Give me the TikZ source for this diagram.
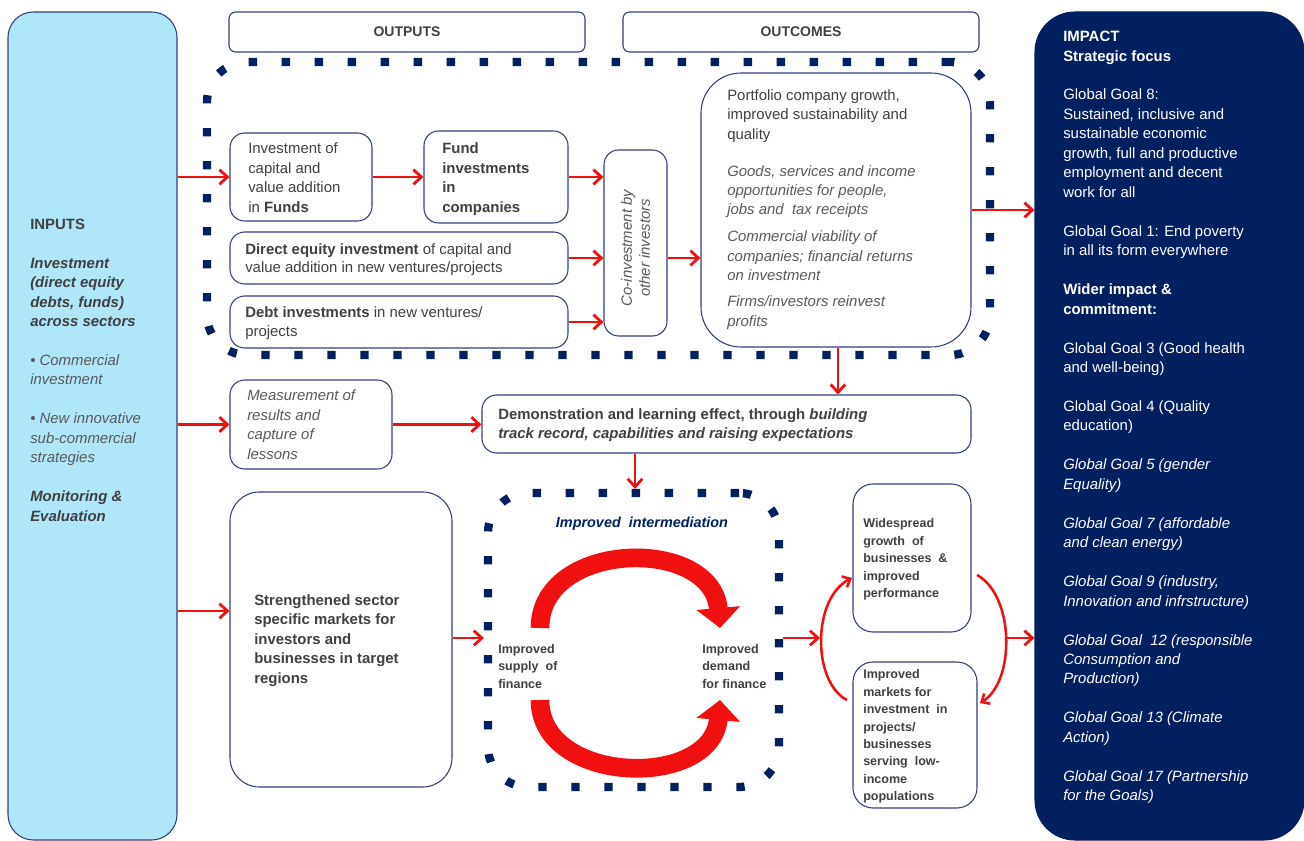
\documentclass[tikz,border=0pt]{standalone}
\usepackage{fontspec}
\setmainfont{Liberation Sans}
\usetikzlibrary{arrows.meta,fit}
\definecolor{navy}{RGB}{0,32,96}
\definecolor{edgec}{RGB}{50,64,122}
\definecolor{inblue}{RGB}{174,230,250}
\definecolor{txtc}{RGB}{64,64,64}
\definecolor{txtlt}{RGB}{89,89,89}
\definecolor{arrc}{RGB}{240,16,16}
\newcommand\fm{\fontsize{11.2pt}{14.6pt}\selectfont}
\newcommand\fmt{\fontsize{11.2pt}{13.6pt}\selectfont}
\newcommand\fsm{\fontsize{9.4pt}{13.1pt}\selectfont}
\begin{document}
\begin{tikzpicture}[x=0.75pt,y=-0.75pt,
  box/.style={draw=edgec, line width=0.8pt, rounded corners=11pt, fill=white, inner sep=0pt},
  hdr/.style={box, rounded corners=5pt},
  hdrtxt/.style={inner sep=0pt, font=\fontsize{10.5pt}{12pt}\selectfont\bfseries, text=txtc},
  dotbox/.style={draw=navy, line width=6.2pt, dash pattern=on 6.2pt off 18.55pt, rounded corners=30pt, inner sep=0pt},
  tx/.style={inner sep=0pt, align=left, text=txtc, font=\fm, anchor=west},
  txs/.style={inner sep=0pt, align=left, text=txtc, font=\fsm\bfseries, anchor=west},
  rarrow/.style={draw=arrc, line width=2.1pt, -{Straight Barb[length=6pt,width=11pt]}},
  rcurve/.style={draw=arrc, line width=1.9pt, -{Straight Barb[length=5pt,width=9pt]}},
  bigarr/.style={draw=arrc, line width=14pt, -{Triangle[length=15pt,width=32pt]}},
]
\useasboundingbox (0,0) rectangle (1304,841);
\fill[white] (0,0) rectangle (1304,841);

% ---------- Inputs column
\node[box, fill=inblue, rounded corners=19pt, fit={(8,12) (177,840)}] (inputs) {};
\node[tx] (inputstxt) at (30,370) {\textbf{INPUTS}\\[14.6pt]
\textbf{\textit{Investment}}\\
\textbf{\textit{(direct equity}}\\
\textbf{\textit{debts, funds)}}\\
\textbf{\textit{across sectors}}\\[14.6pt]
\color{txtlt}\textit{\textbullet\ Commercial}\\
\color{txtlt}\textit{investment}\\[14.6pt]
\color{txtlt}\textit{\textbullet\ New innovative}\\
\color{txtlt}\textit{sub-commercial}\\
\color{txtlt}\textit{strategies}\\[14.6pt]
\textbf{\textit{Monitoring \&}}\\
\textbf{\textit{Evaluation}}};

% ---------- Impact column
\node[box, draw=navy, fill=navy, rounded corners=30pt, fit={(1035,12) (1304,840)}] (impact) {};
\node[tx, text=white] (impacttxt) at (1063,417.5) {\textbf{IMPACT}\\
\textbf{Strategic focus}\\[14.6pt]
Global Goal 8:\\
Sustained, inclusive and\\
sustainable economic\\
growth, full and productive\\
employment and decent\\
work for all\\[14.6pt]
Global Goal 1: End poverty\\
in all its form everywhere\\[14.6pt]
\textbf{Wider impact \&}\\
\textbf{commitment:}\\[14.6pt]
Global Goal 3 (Good health\\
and well-being)\\[14.6pt]
Global Goal 4 (Quality\\
education)\\[14.6pt]
\textit{Global Goal 5 (gender}\\
\textit{Equality)}\\[14.6pt]
\textit{Global Goal 7 (affordable}\\
\textit{and clean energy)}\\[14.6pt]
\textit{Global Goal 9 (industry,}\\
\textit{Innovation and infrstructure)}\\[14.6pt]
\textit{Global Goal\ \ 12 (responsible}\\
\textit{Consumption and}\\
\textit{Production)}\\[14.6pt]
\textit{Global Goal 13 (Climate}\\
\textit{Action)}\\[14.6pt]
\textit{Global Goal 17 (Partnership}\\
\textit{for the Goals)}};

% ---------- Headers
\node[hdr, fit={(229,12) (585,52)}] (outputs) {};
\node[hdrtxt] (outputstxt) at (outputs.center) {OUTPUTS};
\node[hdr, fit={(623,12) (979,52)}] (outcomes) {};
\node[hdrtxt] (outcomestxt) at (outcomes.center) {OUTCOMES};

% ---------- Dotted zones
\node[dotbox, fit={(207,62) (990,355)}] (zone) {};
\node[dotbox, fit={(488,493) (779,787)}] (interm) {};

% ---------- Output boxes
\node[box, fit={(230,133) (372,221)}] (inv) {};
\node[tx] (invtxt) at (248,177.5) {Investment of\\capital and\\value addition\\in \textbf{Funds}};
\node[box, fit={(424,131) (568,223)}] (fund) {};
\node[tx] (fundtxt) at (442,179) {\textbf{Fund}\\\textbf{investments}\\\textbf{in}\\\textbf{companies}};
\node[box, fit={(230,232) (568,284)}] (direct) {};
\node[tx, font=\fmt] (directtxt) at (245,259.5) {\textbf{Direct equity investment} of capital and\\value addition in new ventures/projects};
\node[box, fit={(230,296) (568,348)}] (debt) {};
\node[tx] (debttxt) at (245,323) {\textbf{Debt investments} in new ventures/\\projects};
\node[box, fit={(604,150) (667,336)}] (coinv) {};
\node[inner sep=0pt, align=center, rotate=90, text=txtlt, font=\fmt\itshape] (cotxt) at (635.5,248) {Co-investment by\\other investors};

% ---------- Outcome box
\node[box, rounded corners=30pt, fit={(701,73) (971,347)}] (outc) {};
\node[tx] (outctxt) at (727,209.5) {Portfolio company growth,\\
improved sustainability and\\
quality\\[13pt]
\color{txtlt}\textit{Goods, services and income}\\
\color{txtlt}\textit{opportunities for people,}\\
\color{txtlt}\textit{jobs and\ \ tax receipts}\\[5.6pt]
\color{txtlt}\textit{Commercial viability of}\\
\color{txtlt}\textit{companies; financial returns}\\
\color{txtlt}\textit{on investment}\\[5pt]
\color{txtlt}\textit{Firms/investors reinvest}\\
\color{txtlt}\textit{profits}};

% ---------- Middle row
\node[box, fit={(230,380) (392,469)}] (meas) {};
\node[tx, text=txtlt] (meastxt) at (247,424.5) {\textit{Measurement of}\\\textit{results and}\\\textit{capture of}\\\textit{lessons}};
\node[box, fit={(482,395) (971,453)}] (demo) {};
\node[tx] (demotxt) at (498,425) {\textbf{Demonstration and learning effect, through \textit{building}}\\\textbf{\textit{track record, capabilities and raising expectations}}};

% ---------- Bottom row
\node[box, rounded corners=22pt, fit={(230,492) (452,787)}] (strength) {};
\node[tx, font=\fm\bfseries] (strtxt) at (254,640.5) {Strengthened sector\\specific markets for\\investors and\\businesses in target\\regions};
\node[inner sep=0pt, text=navy, font=\fontsize{10.8pt}{13pt}\selectfont\bfseries\itshape] (intertitle) at (642,524) {Improved\ \ intermediation};
\node[txs] (supply) at (498,666.5) {Improved\\supply\ \ of\\finance};
\node[txs] (demand) at (702,666.5) {Improved\\demand\\for finance};
\node[box, rounded corners=15pt, fit={(853,484) (971,632)}] (wide) {};
\node[txs] (widetxt) at (863,559.5) {Widespread\\growth\ \ of\\businesses\ \ \&\\improved\\performance};
\node[box, rounded corners=15pt, fit={(853,662) (977,808)}] (mkt) {};
\node[txs] (mkttxt) at (863,736.5) {Improved\\markets for\\investment\ \ in\\projects/\\businesses\\serving\ \ low-\\income\\populations};

% ---------- Cycle arrows
\coordinate (cyc1s) at (540,628);
\coordinate (cyc1e) at (720,628);
\coordinate (cyc2s) at (540,700);
\coordinate (cyc2e) at (720,700);
\draw[bigarr] (cyc1s) .. controls (540,540) and (712,536) .. (cyc1e);
\draw[bigarr] (cyc2s) .. controls (540,785) and (712,790) .. (cyc2e);

% ---------- Connectors
\draw[rarrow] (inputs.east |- inv.west) -- (inv.west);
\draw[rarrow] (inv.east) -- (fund.west |- inv.east);
\draw[rarrow] (fund.east) -- (coinv.west |- fund.east);
\draw[rarrow] (direct.east) -- (coinv.west |- direct.east);
\draw[rarrow] (debt.east) -- (coinv.west |- debt.east);
\draw[rarrow] (coinv.east |- direct.east) -- (outc.west |- direct.east);
\draw[rarrow] (outc.east) -- (impact.west |- outc.east);
\draw[rarrow] (outc.south -| 838,0) -- (demo.north -| 838,0);
\draw[rarrow] (inputs.east |- meas.west) -- (meas.west);
\draw[rarrow] (meas.east) -- (demo.west |- meas.east);
\draw[rarrow] (demo.south -| 635,0) -- (interm.north -| 635,0);
\draw[rarrow] (inputs.east |- 0,611) -- (strength.west |- 0,611);
\draw[rarrow] (strength.east |- 0,638) -- (interm.west |- 0,638);
\coordinate (split) at (820,638);
\draw[rarrow] (interm.east |- split) -- (split);
\coordinate (lc1) at (847,700);
\coordinate (lc2) at (852,578);
\draw[rcurve] (lc1) .. controls (812,682) and (812,598) .. (lc2);
\coordinate (rc1) at (977,575);
\coordinate (rc2) at (980,703);
\draw[rcurve] (rc1) .. controls (1015,596) and (1015,682) .. (rc2);
\coordinate (join) at (1006,638);
\draw[rarrow] (join) -- (impact.west |- join);
\end{tikzpicture}
\end{document}
